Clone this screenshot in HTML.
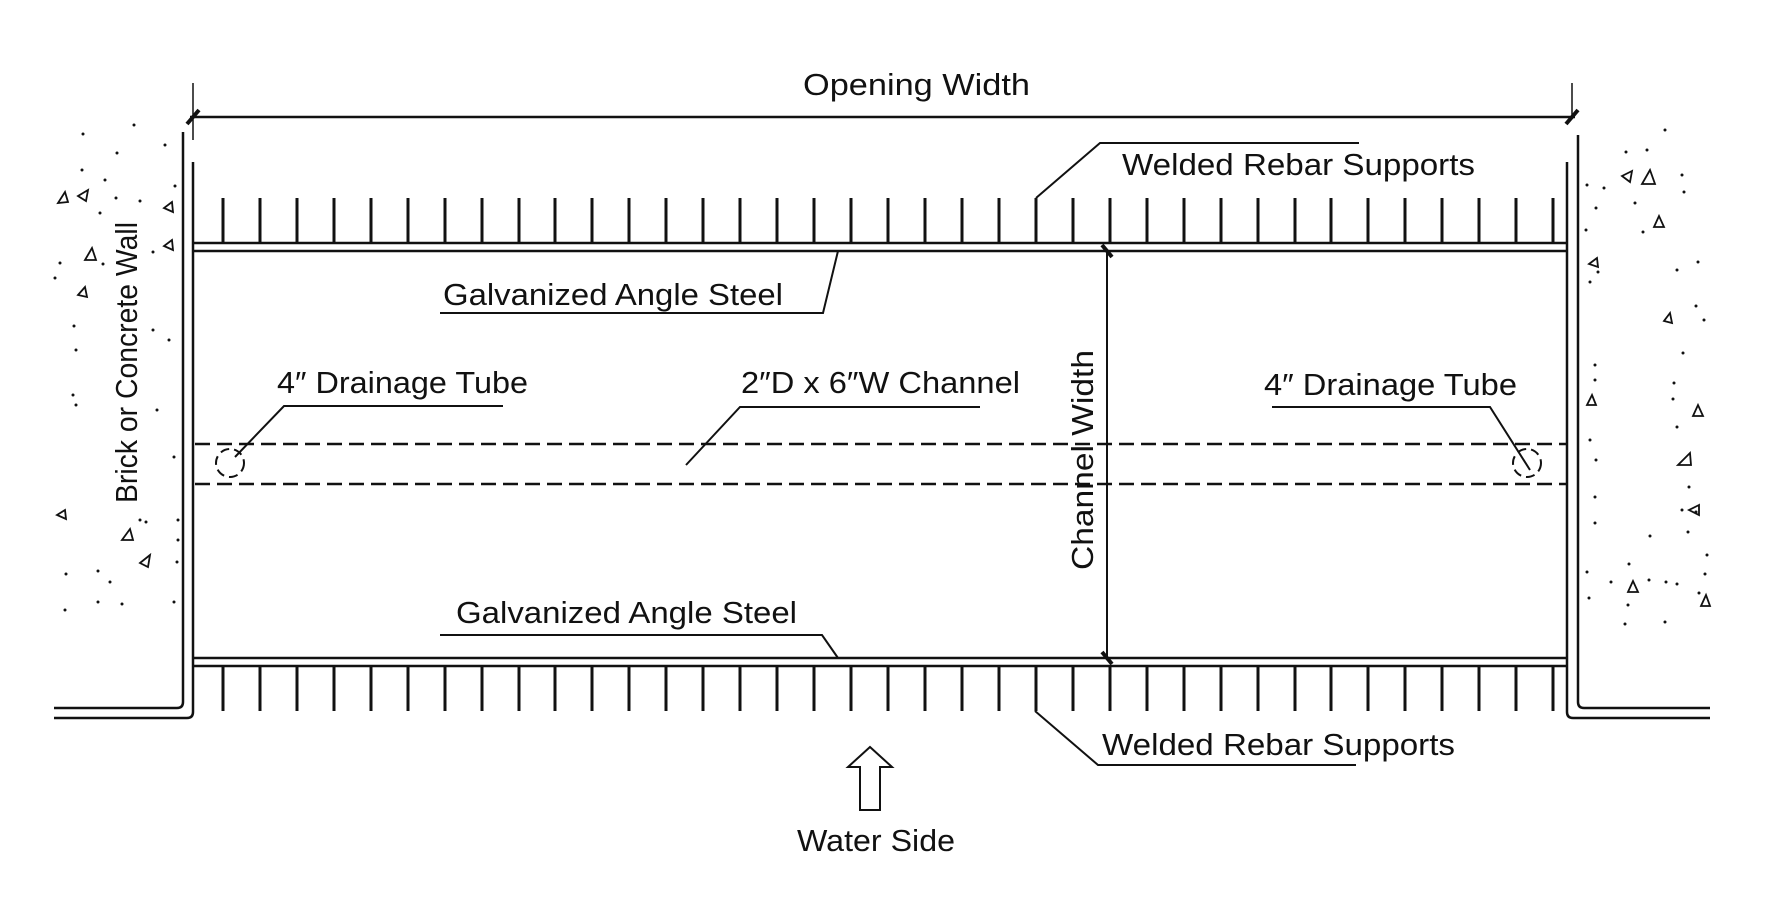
<!DOCTYPE html>
<html><head><meta charset="utf-8"><style>
html,body{margin:0;padding:0;background:#fff;}
svg{display:block;}
text{font-family:"Liberation Sans",sans-serif;fill:#111;}
</style></head><body>
<svg width="1779" height="902" viewBox="0 0 1779 902" xmlns="http://www.w3.org/2000/svg">
<g stroke="#111" fill="none" stroke-linecap="butt">
<!-- dimension line -->
<line x1="193" y1="83" x2="193" y2="140" stroke-width="1.5"/>
<line x1="1572" y1="83" x2="1572" y2="118" stroke-width="1.5"/>
<line x1="190" y1="117" x2="1575" y2="117" stroke-width="2.5"/>
<line x1="187" y1="124" x2="199" y2="110" stroke-width="4"/>
<line x1="1566" y1="124" x2="1578" y2="110" stroke-width="4"/>
<!-- walls -->
<path d="M183 132 V702 Q183 708 177 708 H54" stroke-width="2.5"/>
<path d="M193 162 V712 Q193 718 187 718 H54" stroke-width="2.5"/>
<path d="M1578 135 V702 Q1578 708 1584 708 H1710" stroke-width="2.5"/>
<path d="M1567 162 V712 Q1567 718 1573 718 H1710" stroke-width="2.5"/>
<!-- angle steel -->
<line x1="193" y1="243" x2="1567" y2="243" stroke-width="2.5"/>
<line x1="193" y1="251" x2="1567" y2="251" stroke-width="2.5"/>
<line x1="193" y1="658" x2="1567" y2="658" stroke-width="2.5"/>
<line x1="193" y1="666" x2="1567" y2="666" stroke-width="2.5"/>
<!-- dashed channel -->
<line x1="195" y1="444" x2="1567" y2="444" stroke-width="2.5" stroke-dasharray="15 7"/>
<line x1="195" y1="484" x2="1567" y2="484" stroke-width="2.5" stroke-dasharray="15 7"/>
<circle cx="230" cy="463" r="14" stroke-width="2" stroke-dasharray="9 5"/>
<circle cx="1527" cy="463" r="14" stroke-width="2" stroke-dasharray="9 5"/>
<!-- channel width -->
<line x1="1107" y1="251" x2="1107" y2="658" stroke-width="2"/>
<line x1="1102" y1="245" x2="1112" y2="257" stroke-width="4"/>
<line x1="1102" y1="652" x2="1112" y2="664" stroke-width="4"/>
<!-- leaders -->
<polyline points="1036,198 1100,143 1359,143" stroke-width="2"/>
<polyline points="838,251 823,313 440,313" stroke-width="2"/>
<polyline points="235,457 284,406 503,406" stroke-width="2"/>
<polyline points="686,465 740,407 980,407" stroke-width="2"/>
<polyline points="1530,470 1490,407 1272,407" stroke-width="2"/>
<polyline points="838,658 822,635 440,635" stroke-width="2"/>
<polyline points="1035,711 1098,765 1356,765" stroke-width="2"/>
<!-- water arrow -->
<path d="M870 747 L892 767 L880 767 L880 810 L860 810 L860 767 L848 767 Z" stroke-width="2"/>
</g>
<g id="rebars" stroke="#111" stroke-width="3">
<script>/* placeholder */</script>
</g>
<g stroke="#111" stroke-width="3">
<path d="M223 198V243M260 198V243M297 198V243M334 198V243M371 198V243M408 198V243M445 198V243M482 198V243M519 198V243M555 198V243M592 198V243M629 198V243M666 198V243M703 198V243M740 198V243M777 198V243M814 198V243M851 198V243M888 198V243M925 198V243M962 198V243M999 198V243M1036 198V243M1073 198V243M1110 198V243M1147 198V243M1184 198V243M1221 198V243M1258 198V243M1295 198V243M1331 198V243M1368 198V243M1405 198V243M1442 198V243M1479 198V243M1516 198V243M1553 198V243"/>
<path d="M223 666V711M260 666V711M297 666V711M334 666V711M371 666V711M408 666V711M445 666V711M482 666V711M519 666V711M555 666V711M592 666V711M629 666V711M666 666V711M703 666V711M740 666V711M777 666V711M814 666V711M851 666V711M888 666V711M925 666V711M962 666V711M999 666V711M1036 666V711M1073 666V711M1110 666V711M1147 666V711M1184 666V711M1221 666V711M1258 666V711M1295 666V711M1331 666V711M1368 666V711M1405 666V711M1442 666V711M1479 666V711M1516 666V711M1553 666V711"/>
</g>
<!-- speckles -->
<g fill="#111">
<circle cx="83" cy="134" r="1.5"/><circle cx="117" cy="153" r="1.5"/><circle cx="82" cy="170" r="1.5"/><circle cx="105" cy="180" r="1.5"/><circle cx="116" cy="198" r="1.5"/><circle cx="140" cy="201" r="1.5"/><circle cx="100" cy="213" r="1.5"/><circle cx="60" cy="263" r="1.5"/><circle cx="55" cy="278" r="1.5"/><circle cx="103" cy="264" r="1.5"/><circle cx="153" cy="252" r="1.5"/><circle cx="74" cy="326" r="1.5"/><circle cx="76" cy="350" r="1.5"/><circle cx="153" cy="330" r="1.5"/><circle cx="169" cy="340" r="1.5"/><circle cx="73" cy="395" r="1.5"/><circle cx="76" cy="405" r="1.5"/><circle cx="157" cy="410" r="1.5"/><circle cx="174" cy="457" r="1.5"/><circle cx="140" cy="520" r="1.5"/><circle cx="146" cy="522" r="1.5"/><circle cx="178" cy="520" r="1.5"/><circle cx="178" cy="540" r="1.5"/><circle cx="66" cy="574" r="1.5"/><circle cx="98" cy="571" r="1.5"/><circle cx="110" cy="582" r="1.5"/><circle cx="177" cy="562" r="1.5"/><circle cx="65" cy="610" r="1.5"/><circle cx="98" cy="602" r="1.5"/><circle cx="122" cy="604" r="1.5"/><circle cx="174" cy="602" r="1.5"/><circle cx="134" cy="125" r="1.5"/><circle cx="165" cy="145" r="1.5"/><circle cx="175" cy="186" r="1.5"/>
<circle cx="1665" cy="130" r="1.5"/><circle cx="1626" cy="152" r="1.5"/><circle cx="1647" cy="150" r="1.5"/><circle cx="1682" cy="175" r="1.5"/><circle cx="1684" cy="192" r="1.5"/><circle cx="1587" cy="185" r="1.5"/><circle cx="1604" cy="188" r="1.5"/><circle cx="1596" cy="208" r="1.5"/><circle cx="1635" cy="203" r="1.5"/><circle cx="1586" cy="230" r="1.5"/><circle cx="1643" cy="232" r="1.5"/><circle cx="1598" cy="272" r="1.5"/><circle cx="1590" cy="282" r="1.5"/><circle cx="1677" cy="270" r="1.5"/><circle cx="1698" cy="262" r="1.5"/><circle cx="1696" cy="306" r="1.5"/><circle cx="1704" cy="320" r="1.5"/><circle cx="1683" cy="353" r="1.5"/><circle cx="1595" cy="365" r="1.5"/><circle cx="1595" cy="380" r="1.5"/><circle cx="1674" cy="383" r="1.5"/><circle cx="1673" cy="399" r="1.5"/><circle cx="1677" cy="427" r="1.5"/><circle cx="1590" cy="440" r="1.5"/><circle cx="1596" cy="460" r="1.5"/><circle cx="1595" cy="497" r="1.5"/><circle cx="1689" cy="487" r="1.5"/><circle cx="1682" cy="510" r="1.5"/><circle cx="1696" cy="512" r="1.5"/><circle cx="1595" cy="523" r="1.5"/><circle cx="1650" cy="536" r="1.5"/><circle cx="1688" cy="532" r="1.5"/><circle cx="1707" cy="555" r="1.5"/><circle cx="1629" cy="564" r="1.5"/><circle cx="1587" cy="572" r="1.5"/><circle cx="1611" cy="582" r="1.5"/><circle cx="1649" cy="580" r="1.5"/><circle cx="1666" cy="582" r="1.5"/><circle cx="1677" cy="584" r="1.5"/><circle cx="1705" cy="574" r="1.5"/><circle cx="1589" cy="598" r="1.5"/><circle cx="1628" cy="605" r="1.5"/><circle cx="1699" cy="593" r="1.5"/><circle cx="1625" cy="624" r="1.5"/><circle cx="1665" cy="622" r="1.5"/>
</g>
<g stroke="#111" stroke-width="1.8" fill="none">
<path d="M65 192 l-7 11 l10 -1 z"/><path d="M88 190 l-10 6 l8 5 z"/><path d="M92 248 l-7 12 l11 0 z"/><path d="M85 287 l-7 8 l9 2 z"/><path d="M172 202 l-8 6 l9 4 z"/><path d="M172 240 l-8 6 l9 4 z"/><path d="M65 510 l-8 5 l9 4 z"/><path d="M130 529 l-8 11 l11 0 z"/><path d="M150 555 l-10 8 l8 4 z"/>
<path d="M1650 170 l-8 14 l13 0 z"/><path d="M1632 171 l-10 5 l8 6 z"/><path d="M1659 216 l-5 11 l10 0 z"/><path d="M1597 258 l-8 6 l9 3 z"/><path d="M1592 395 l-5 10 l9 0 z"/><path d="M1698 405 l-5 11 l10 0 z"/><path d="M1690 453 l-12 12 l13 0 z"/><path d="M1699 505 l-10 5 l10 5 z"/><path d="M1633 581 l-5 11 l10 0 z"/><path d="M1706 595 l-5 11 l9 0 z"/><path d="M1670 313 l-6 8 l8 2 z"/>
</g>
<!-- labels -->
<text x="803" y="95" font-size="31" textLength="227" lengthAdjust="spacingAndGlyphs">Opening Width</text>
<text x="1122" y="175" font-size="31" textLength="353" lengthAdjust="spacingAndGlyphs">Welded Rebar Supports</text>
<text x="443" y="305" font-size="31" textLength="340" lengthAdjust="spacingAndGlyphs">Galvanized Angle Steel</text>
<text x="277" y="393" font-size="31" textLength="251" lengthAdjust="spacingAndGlyphs">4″ Drainage Tube</text>
<text x="741" y="393" font-size="31" textLength="279" lengthAdjust="spacingAndGlyphs">2″D x 6″W Channel</text>
<text x="1264" y="395" font-size="31" textLength="253" lengthAdjust="spacingAndGlyphs">4″ Drainage Tube</text>
<text x="456" y="623" font-size="31" textLength="341" lengthAdjust="spacingAndGlyphs">Galvanized Angle Steel</text>
<text x="1102" y="755" font-size="31" textLength="353" lengthAdjust="spacingAndGlyphs">Welded Rebar Supports</text>
<text x="797" y="851" font-size="31" textLength="158" lengthAdjust="spacingAndGlyphs">Water Side</text>
<text transform="translate(137,503) rotate(-90)" x="0" y="0" font-size="31" textLength="281" lengthAdjust="spacingAndGlyphs">Brick or Concrete Wall</text>
<text transform="translate(1093,570) rotate(-90)" x="0" y="0" font-size="31" textLength="220" lengthAdjust="spacingAndGlyphs">Channel Width</text>
</svg>
</body></html>
